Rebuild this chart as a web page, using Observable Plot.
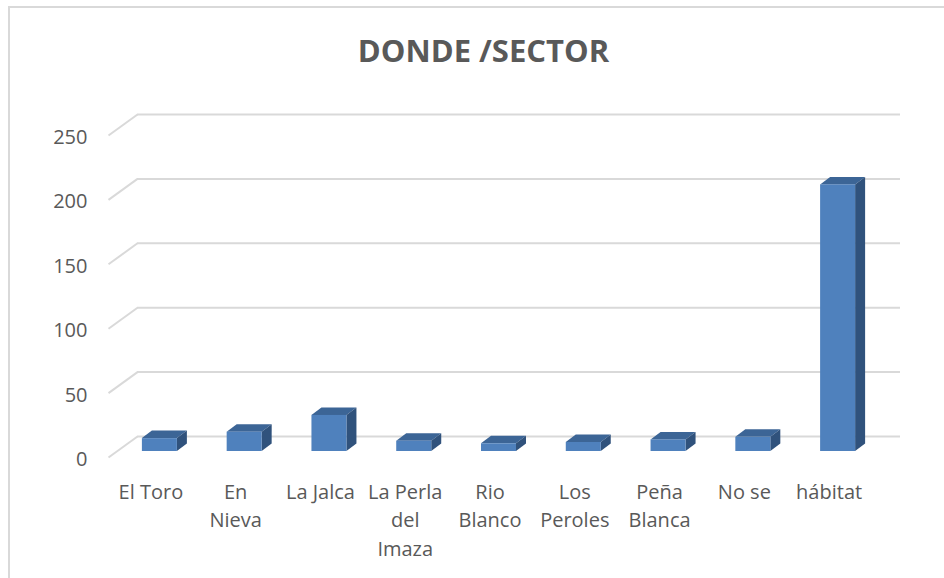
<!DOCTYPE html>
<html>
<head>
<meta charset="utf-8">
<script src="https://cdn.jsdelivr.net/npm/d3@7"></script>
<script src="https://cdn.jsdelivr.net/npm/@observablehq/plot@0.6"></script>
<style>
  html, body { margin: 0; padding: 0; background: #ffffff; overflow: hidden; }
  #wrap { position: relative; width: 944px; height: 578px; overflow: hidden; }
  #frame { position: absolute; left: 8px; top: 6px; width: 1000px; height: 1000px; border: 2px solid #d9d9d9; box-sizing: border-box; }
  #chart { position: absolute; left: 0; top: 0; }
  #title { position: absolute; left: 0; top: 35px; width: 967px; text-align: center;
           font-family: "Open Sans", sans-serif; font-weight: 700; font-size: 31px; line-height: 31px; color: #595959; }
</style>
</head>
<body>
<div id="wrap">
  <div id="frame"></div>
  <div id="chart"></div>
  <div id="title">DONDE /SECTOR</div>
</div>
<script>
// ---- data ----
const categories = ["El Toro", "En Nieva", "La Jalca", "La Perla del Imaza", "Rio Blanco", "Los Peroles", "Peña Blanca", "No se", "hábitat"];
const values = [10, 15, 28, 8, 6, 7, 9, 11, 207];
const tickLabels = ["El Toro", "En\nNieva", "La Jalca", "La Perla\ndel\nImaza", "Rio\nBlanco", "Los\nPeroles", "Peña\nBlanca", "No se", "hábitat"];
const yTicks = [0, 50, 100, 150, 200, 250];

// ---- layout (pixels) ----
const W = 944, H = 578;
const pLeft = 108, pRight = 871, pTop = 135, pBottom = 457;
const yMax = 250;
const pxX = (pRight - pLeft) / categories.length;
const pxY = (pBottom - pTop) / yMax;
const ux = px => px / pxX;
const uy = px => px / pxY;

const wallDx = ux(29), wallDy = uy(21);
const barShift = ux(9), barW = ux(35), barBase = uy(6);
const depX = ux(10), depY = uy(7.5);

const bars = categories.map((c, i) => ({c, i, v: values[i],
  xl: i + barShift - barW / 2, xr: i + barShift + barW / 2}));

const sidePts = bars.flatMap(b => [
  {c: b.c, x: b.xr, y1: barBase, y2: barBase + b.v},
  {c: b.c, x: b.xr + depX, y1: barBase + depY, y2: barBase + b.v + depY}
]);
const topPts = bars.flatMap(b => {
  const t = barBase + b.v;
  return [
    {c: b.c, x: b.xl, y1: t, y2: t},
    {c: b.c, x: b.xl + depX, y1: t, y2: t + depY},
    {c: b.c, x: b.xr, y1: t, y2: t + depY},
    {c: b.c, x: b.xr + depX, y1: t + depY, y2: t + depY}
  ];
});

const grid = "#d9d9d9";
const chart = Plot.plot({
  width: W, height: H,
  marginLeft: pLeft, marginRight: W - pRight, marginTop: pTop, marginBottom: H - pBottom,
  style: {fontFamily: "Open Sans, sans-serif", fontSize: "20px", color: "#595959", background: "transparent", overflow: "visible"},
  x: {type: "linear", domain: [-0.5, categories.length - 0.5]},
  y: {domain: [0, yMax]},
  marks: [
    // back wall gridlines
    Plot.ruleY(yTicks, {y: d => d + wallDy, x1: -0.5 + wallDx, x2: categories.length - 0.5 + wallDx, stroke: grid, strokeWidth: 2}),
    // side wall diagonals
    Plot.link(yTicks, {x1: -0.5, y1: d => d, x2: -0.5 + wallDx, y2: d => d + wallDy, stroke: grid, strokeWidth: 2}),
    // bar top faces
    Plot.area(topPts, {x1: "x", y1: "y1", y2: "y2", z: "c", fill: "#3c6596"}),
    // bar side faces
    Plot.area(sidePts, {x1: "x", y1: "y1", y2: "y2", z: "c", fill: "#30527c"}),
    // bar front faces
    Plot.rect(bars, {x1: "xl", x2: "xr", y1: barBase, y2: d => barBase + d.v, fill: "#4f81bd"}),
    Plot.axisY(yTicks, {anchor: "left", tickSize: 0, tickPadding: 21, fontSize: 20, dy: 2}),
    Plot.axisX(d3.range(categories.length), {anchor: "bottom", tickSize: 0, tickPadding: 21, fontSize: 20, lineHeight: 1.43, tickFormat: i => tickLabels[i]})
  ]
});
document.getElementById("chart").appendChild(chart);
</script>
</body>
</html>
